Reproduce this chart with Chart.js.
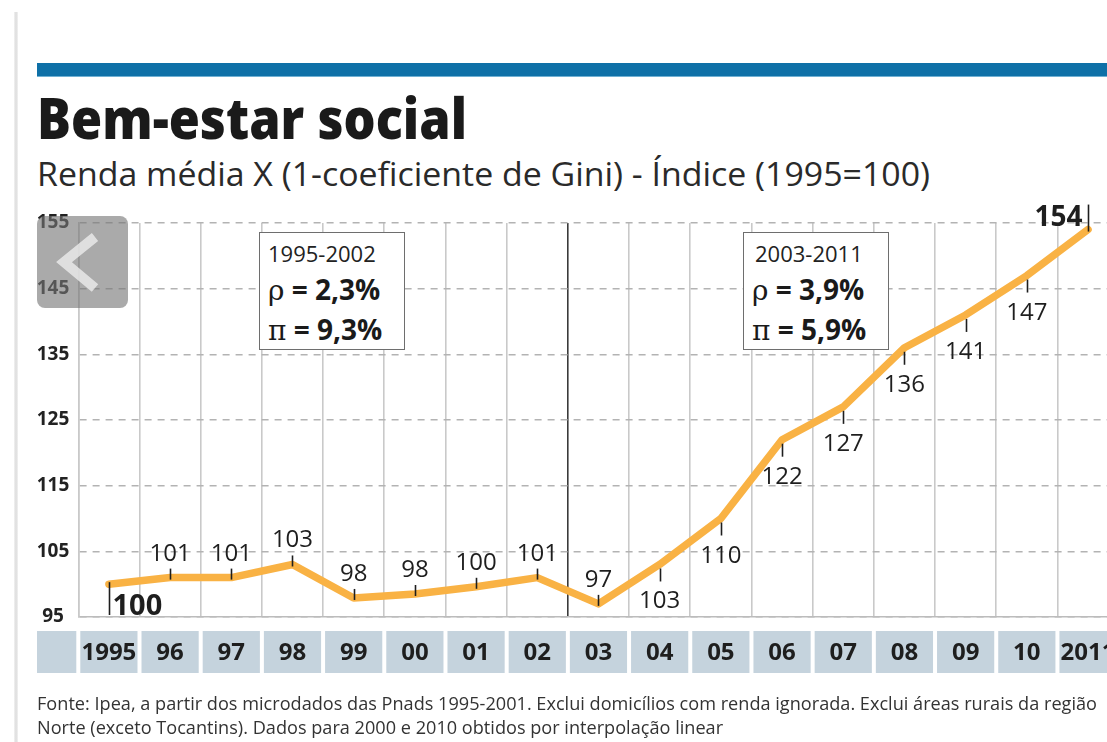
<!DOCTYPE html>
<html>
<head>
<meta charset="utf-8">
<script src="https://cdn.jsdelivr.net/npm/chart.js@4.4.1/dist/chart.umd.min.js"></script>
<style>
  html, body { margin: 0; padding: 0; background: #fff; overflow: hidden; }
  body { width: 1107px; height: 742px; position: relative; font-family: "Open Sans", sans-serif; color: #1c1c1c; }
  #chartWrap { position: absolute; left: 0; top: 0; width: 1107px; height: 742px; }
  .txt { position: absolute; white-space: nowrap; transform-origin: 0 0; }
  #edge { position: absolute; left: 14px; top: 12px; bottom: 0; width: 4px;
          background: linear-gradient(to right, #f2f2f2, #dcdcdc, #f2f2f2); }
  #bar { position: absolute; left: 37px; right: 0; top: 63px; height: 13px; background: #0e70a7;
         border-bottom: 1px solid #6fb0d3; }
  #title { left: 37px; top: 89px; font-size: 57px; line-height: 57px; font-weight: 900; color: #1a1a1a; }
  #subtitle { left: 37px; top: 158px; font-size: 32px; line-height: 32px; font-weight: 400; color: #2a2a2a; }
  .foot { left: 37px; font-size: 18px; line-height: 22px; color: #333; }
  .note { position: absolute; width: 144px; height: 116px; background: #fff; border: 1px solid #6e6e6e; }
  .note div { position: absolute; white-space: nowrap; }
  .period { font-size: 22px; line-height: 24px; top: 8px; color: #222; }
  .stat { font-size: 28px; line-height: 30px; font-weight: 700; color: #1a1a1a; }
  .greek { font-family: "DejaVu Serif", "Liberation Serif", serif; font-weight: 400; }
  #nav { position: absolute; left: 37px; top: 216px; width: 91px; height: 92px; border-radius: 8px;
         background: rgba(118, 118, 118, 0.62); }
</style>
</head>
<body>
<div id="edge"></div>
<div id="bar"></div>
<div id="title" class="txt">Bem-estar social</div>
<div id="subtitle" class="txt">Renda média X (1-coeficiente de Gini) - Índice (1995=100)</div>

<div id="chartWrap"><canvas id="giniChart"></canvas></div>

<div class="note" style="left:259px; top:232px;">
  <div class="period" style="left:8px;">1995-2002</div>
  <div class="stat" style="left:8px; top:41px;"><span class="greek">ρ</span> = 2,3%</div>
  <div class="stat" style="left:8px; top:81px;"><span class="greek">π</span> = 9,3%</div>
</div>
<div class="note" style="left:743px; top:232px;">
  <div class="period" style="left:11px;">2003-2011</div>
  <div class="stat" style="left:8px; top:41px;"><span class="greek">ρ</span> = 3,9%</div>
  <div class="stat" style="left:8px; top:81px;"><span class="greek">π</span> = 5,9%</div>
</div>

<div id="nav">
  <svg width="91" height="92"><polyline points="58,21 27,46 58,72" fill="none" stroke="rgba(238,238,238,0.8)" stroke-width="10"/></svg>
</div>

<div id="foot1" class="txt foot" style="top:692px;">Fonte: Ipea, a partir dos microdados das Pnads 1995-2001. Exclui domicílios com renda ignorada. Exclui áreas rurais da região</div>
<div id="foot2" class="txt foot" style="top:716px;">Norte (exceto Tocantins). Dados para 2000 e 2010 obtidos por interpolação linear</div>

<script>
// years along the bottom (label boxes)
const years = ["1995", "96", "97", "98", "99", "00", "01", "02", "03", "04", "05", "06", "07", "08", "09", "10", "2011"];
// index values
const indexValues = [100, 101, 101, 103, 97.9, 98.5, 99.6, 101, 97, 103, 110, 122, 127, 136, 141, 147, 154];
// numbers printed next to each point
const valueLabels = ["100", "101", "101", "103", "98", "98", "100", "101", "97", "103", "110", "122", "127", "136", "141", "147", "154"];
// y axis ticks
const yTicks = [95, 105, 115, 125, 135, 145, 155];

// fit text lines to the widths in the original layout
function fitWidth(el, target) {
  const w = el.getBoundingClientRect().width;
  const k = target / w;
  el.style.transform = "scaleX(" + k + ")";
  return k;
}
fitWidth(document.getElementById("title"), 430);
fitWidth(document.getElementById("subtitle"), 893);
const footScale = fitWidth(document.getElementById("foot1"), 1060);
document.getElementById("foot2").style.transform = "scaleX(" + footScale + ")";

// column edges: one vertical line between each year
const columnEdges = years.map((y, i) => i - 0.5).concat([years.length - 0.5]);

const pointLabels = {
  id: "pointLabels",
  afterDatasetsDraw(chart) {
    const ctx = chart.ctx;
    const pts = chart.getDatasetMeta(0).data;
    const bottom = chart.chartArea.bottom;
    ctx.save();
    ctx.strokeStyle = "#1e1e1e";
    ctx.fillStyle = "#1e1e1e";
    ctx.lineWidth = 1.6;
    pts.forEach((p, i) => {
      const x = Math.round(p.x) + 0.5;
      const y = p.y;
      ctx.beginPath();
      if (i === 0) {
        // first point: long tick down, bold number to the right
        ctx.moveTo(x, y - 2);
        ctx.lineTo(x, bottom - 2);
        ctx.stroke();
        ctx.font = "bold 29px 'Open Sans'";
        ctx.textAlign = "left";
        ctx.textBaseline = "alphabetic";
        ctx.fillText(valueLabels[i], x + 3, bottom - 2);
      } else if (i === pts.length - 1) {
        // last point: tick up, bold number to the left
        ctx.moveTo(x, y + 2);
        ctx.lineTo(x, y - 25);
        ctx.stroke();
        ctx.font = "bold 28px 'Open Sans'";
        ctx.textAlign = "right";
        ctx.textBaseline = "alphabetic";
        ctx.fillText(valueLabels[i], x - 6, y - 4);
      } else if (i <= 8) {
        ctx.moveTo(x, y + 2);
        ctx.lineTo(x, y - 9);
        ctx.stroke();
        ctx.font = "24px 'Open Sans'";
        ctx.textAlign = "center";
        ctx.textBaseline = "alphabetic";
        ctx.fillText(valueLabels[i], p.x, y - 17);
      } else {
        ctx.moveTo(x, y + 4);
        ctx.lineTo(x, y + 17);
        ctx.stroke();
        ctx.font = "24px 'Open Sans'";
        ctx.textAlign = "center";
        ctx.textBaseline = "alphabetic";
        ctx.fillText(valueLabels[i], p.x, y + 44);
      }
    });
    ctx.restore();
  },
  afterDraw(chart) {
    // grey-blue year boxes under the plot
    const ctx = chart.ctx;
    const xs = chart.scales.x;
    const top = chart.chartArea.bottom + 14;
    const h = 42;
    ctx.save();
    ctx.fillStyle = "#c5d3dd";
    ctx.fillRect(37, top, xs.left - 2 - 37, h);
    ctx.font = "bold 24px 'Open Sans'";
    ctx.textAlign = "center";
    ctx.textBaseline = "middle";
    years.forEach((label, i) => {
      const l = xs.getPixelForValue(i - 0.5) + 2;
      const r = xs.getPixelForValue(i + 0.5) - 2;
      ctx.fillStyle = "#c5d3dd";
      ctx.fillRect(l, top, r - l, h);
      ctx.fillStyle = "#1e1e1e";
      ctx.fillText(label, xs.getPixelForValue(i), top + h / 2 + 1);
    });
    ctx.restore();
  },
};

const ctx = document.getElementById("giniChart").getContext("2d");
const giniChart = new Chart(ctx, {
  type: "line",
  data: {
    datasets: [
      {
        label: "Índice",
        data: indexValues.map((v, i) => ({ x: i, y: v })),
        borderColor: "#f9b244",
        borderWidth: 7.5,
        borderCapStyle: "round",
        borderJoinStyle: "round",
        pointRadius: 0,
        tension: 0,
        clip: false,
      },
    ],
  },
  options: {
    responsive: true,
    maintainAspectRatio: false,
    animation: false,
    layout: { padding: { top: 223, bottom: 125, left: 0, right: 0 } },
    plugins: {
      legend: { display: false },
      tooltip: { enabled: false },
    },
    scales: {
      x: {
        type: "linear",
        min: -0.5,
        max: 16.31,
        afterBuildTicks: (scale) => {
          scale.ticks = columnEdges.filter((v) => v <= 16.31).map((v) => ({ value: v }));
        },
        ticks: { display: false },
        grid: {
          color: (c) => (c.tick && c.tick.value === 7.5 ? "#3a3a3a" : "#c9c9c9"),
          lineWidth: 1.6,
          drawTicks: false,
        },
        border: { display: true, color: "#bcbcbc", width: 1.6 },
      },
      y: {
        min: 95,
        max: 155,
        afterBuildTicks: (scale) => {
          scale.ticks = yTicks.map((v) => ({ value: v }));
        },
        afterFit: (scale) => {
          scale.width = 78.3;
        },
        ticks: {
          crossAlign: "center",
          padding: 9,
          color: "#222",
          font: { family: "'Open Sans'", size: 19, weight: "bold" },
        },
        grid: { color: "#b3b3b3", lineWidth: 1.5, drawTicks: false },
        border: { display: true, color: "#c9c9c9", width: 1.6, dash: [7, 6] },
      },
    },
  },
  plugins: [pointLabels],
});
</script>
</body>
</html>
